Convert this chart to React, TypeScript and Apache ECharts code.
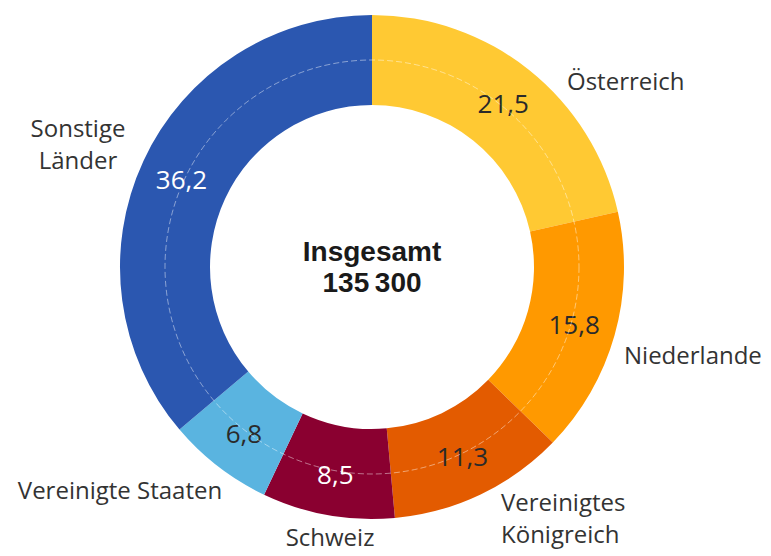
import React, { useEffect, useRef } from "react";
import * as echarts from "echarts";

const categories = [
  "Österreich",
  "Niederlande",
  "Vereinigtes\nKönigreich",
  "Schweiz",
  "Vereinigte Staaten",
  "Sonstige\nLänder",
];
const shares = [21.5, 15.8, 11.3, 8.5, 6.8, 36.2];
const colors = ["#FFC933", "#FF9900", "#E35B00", "#8A0030", "#5AB4E0", "#2B57B0"];
const valueColors = ["#2a2a2a", "#2a2a2a", "#2a2a2a", "#ffffff", "#2a2a2a", "#ffffff"];
const totalLabel = "Insgesamt";
const totalValue = "135\u2009300";

// label anchor positions for the category names (layout only)
const nameLayout = [
  { x: 567, y: 80, align: "left" },
  { x: 624, y: 354, align: "left" },
  { x: 501, y: 517, align: "left" },
  { x: 330, y: 536, align: "center" },
  { x: 120, y: 489, align: "center" },
  { x: 78, y: 143, align: "center" },
];

const CX = 372;
const CY = 267;
const FONT = "'Open Sans', 'Noto Sans', sans-serif";

export default function App() {
  const ref = useRef<HTMLDivElement>(null);
  useEffect(() => {
    if (!ref.current) return;
    const chart = echarts.init(ref.current, undefined, { renderer: "svg" });
    const data = categories.map((c, i) => ({
      name: c,
      value: shares[i],
      itemStyle: { color: colors[i] },
      label: { color: valueColors[i] },
    }));
    chart.setOption({
      animation: false,
      backgroundColor: "#ffffff",
      series: [
        {
          type: "pie",
          center: [CX, CY],
          radius: [162, 252],
          startAngle: 90,
          clockwise: true,
          silent: true,
          avoidLabelOverlap: false,
          data,
          label: {
            show: true,
            position: "inside",
            formatter: (p: any) => String(p.value).replace(".", ","),
            fontFamily: FONT,
            fontSize: 26,
          },
          labelLine: { show: false },
          itemStyle: { borderWidth: 0 },
          z: 2,
        },
        {
          type: "pie",
          center: [CX, CY],
          radius: [162, 252],
          startAngle: 90,
          clockwise: true,
          silent: true,
          avoidLabelOverlap: false,
          data: categories.map((c, i) => ({ name: c, value: shares[i] })),
          itemStyle: { color: "rgba(0,0,0,0)" },
          label: {
            show: true,
            position: "outside",
            formatter: "{b}",
            fontFamily: FONT,
            fontSize: 24,
            lineHeight: 32,
            color: "#333333",
          },
          labelLine: { show: false },
          labelLayout: (p: any) => {
            const l = nameLayout[p.dataIndex];
            return { x: l.x, y: l.y, align: l.align, verticalAlign: "middle" };
          },
          z: 3,
        },
      ],
      graphic: [
        {
          type: "circle",
          shape: { cx: CX, cy: CY, r: 207 },
          style: {
            fill: "none",
            stroke: "rgba(255,255,255,0.45)",
            lineWidth: 1,
            lineDash: [6, 3],
          },
          silent: true,
          z: 10,
        },
        {
          type: "text",
          x: CX,
          y: CY,
          style: {
            text: totalLabel + "\n" + totalValue,
            fontFamily: "'Liberation Sans', Arial, sans-serif",
            fontWeight: "bold",
            fontSize: 28,
            lineHeight: 31,
            fill: "#1a1a1a",
            align: "center",
            verticalAlign: "middle",
          },
          z: 10,
        },
      ],
    });
    return () => chart.dispose();
  }, []);
  return (
    <div
      ref={ref}
      style={{ position: "fixed", left: 0, top: 0, width: 771, height: 556 }}
    />
  );
}
